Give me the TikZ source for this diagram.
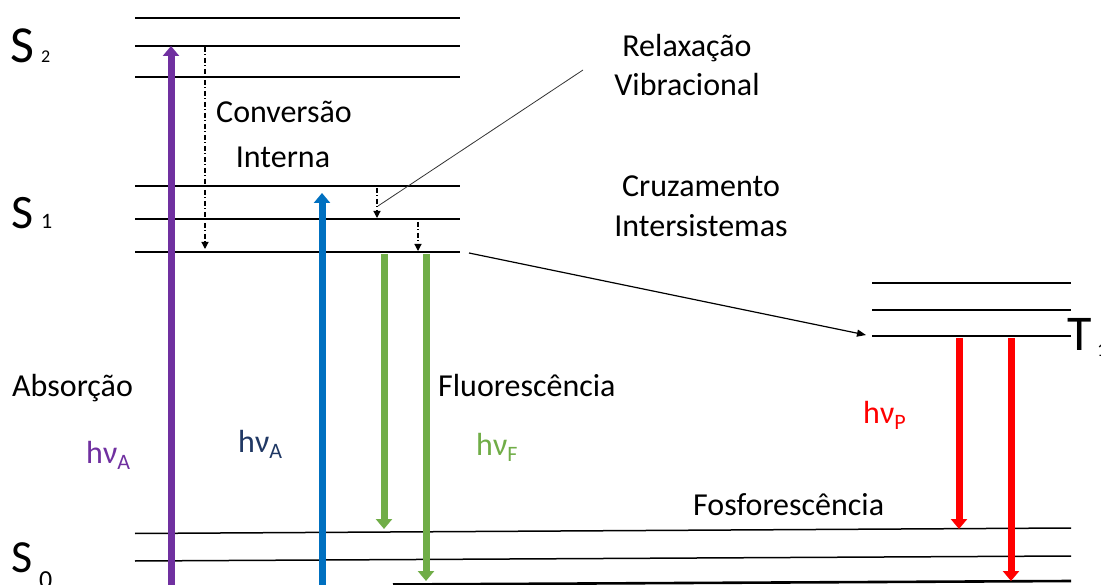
\documentclass[tikz,border=0pt]{standalone}
\usepackage{fontspec}
\setmainfont{Carlito}
\usetikzlibrary{arrows.meta}
\definecolor{cpurple}{HTML}{7030A0}
\definecolor{cblue}{HTML}{0070C0}
\definecolor{cgreen}{HTML}{70AD47}
\definecolor{cred}{HTML}{FF0000}
\definecolor{cnavy}{HTML}{203864}
\newcommand\lblfont{\fontsize{32}{38}\selectfont}
\newcommand\hnu[1]{hν\raisebox{-0.2em}{\fontsize{22}{22}\selectfont #1}}
\tikzset{
  lvl/.style={line width=1.5pt, line cap=butt},
  lvlthick/.style={line width=2.6pt},
  txt/.style={inner sep=0pt, font=\lblfont},
  photon/.style={line width=7pt, -{Triangle[width=16pt,length=10pt]}},
  relax/.style={line width=1.2pt, dash pattern=on 5pt off 2.5pt on 1pt off 2.5pt, -{Triangle[width=7pt,length=7pt]}},
}
\begin{document}
\begin{tikzpicture}[x=1pt,y=-1pt]
\useasboundingbox (0,0) rectangle (1101,585);
% S2 levels
\draw[lvl] (135,18) -- (460,18);
\draw[lvl] (135,46) -- (460,46);
\draw[lvlthick] (135,77) -- (460,77);
% S1 levels
\draw[lvl] (135,186) -- (460,186);
\draw[lvl] (135,219) -- (460,219);
\draw[lvlthick] (135,252) -- (460,252);
% T1 levels
\draw[lvl] (872,283) -- (1071,283);
\draw[lvl] (872,310) -- (1071,310);
\draw[lvlthick] (872,336) -- (1071,336);
% S0 levels (slightly slanted)
\draw[lvl] (135,533.5) -- (1071,528);
\draw[lvl] (135,561) -- (1071,556);
\draw[lvlthick] (393,584.5) -- (1071,581);

% state labels
\node[inner sep=0pt, anchor=base west, font=\fontsize{52}{52}\selectfont] (s2) at (10,63) {S};
\node[inner sep=0pt, anchor=base west, font=\fontsize{18}{18}\selectfont] (s2i) at (41,63) {2};
\node[inner sep=0pt, anchor=base west, font=\fontsize{48}{48}\selectfont] (s1) at (11,229) {S};
\node[inner sep=0pt, anchor=base west, font=\fontsize{22}{22}\selectfont] (s1i) at (41,229) {1};
\node[inner sep=0pt, anchor=base west, font=\fontsize{46}{46}\selectfont] (s0) at (11,572) {S};
\node[inner sep=0pt, anchor=base west, font=\fontsize{26}{26}\selectfont] (s0i) at (39,588) {0};
\node[inner sep=0pt, anchor=base west, font=\fontsize{50}{50}\selectfont] (t1) at (1067,351) {T};
\node[inner sep=0pt, anchor=base west, font=\fontsize{20}{20}\selectfont] (t1i) at (1097,357) {1};

% coordinates for connectors
\coordinate (pA0) at (171,592);
\coordinate (pA1) at (171,46);
\coordinate (bA0) at (322,592);
\coordinate (bA1) at (322,193);
\coordinate (gF0) at (384,254);
\coordinate (gF1) at (384,529);
\coordinate (gG0) at (426,254);
\coordinate (gG1) at (426,581);
\coordinate (rP0) at (959,338);
\coordinate (rP1) at (959,529);
\coordinate (rQ0) at (1011,338);
\coordinate (rQ1) at (1011,581);
\coordinate (ic0) at (205,47);
\coordinate (ic1) at (205,249);
\coordinate (vr0) at (377,188);
\coordinate (vr1) at (377,218);
\coordinate (vs0) at (418,222);
\coordinate (vs1) at (418,251);
\coordinate (isc0) at (469,253);
\coordinate (isc1) at (866,335);
\coordinate (rl0) at (378,206);
\coordinate (rl1) at (583,70);

% radiative transitions
\draw[photon, cpurple] (pA0) -- (pA1);
\draw[photon, cblue] (bA0) -- (bA1);
\draw[photon, cgreen] (gF0) -- (gF1);
\draw[photon, cgreen] (gG0) -- (gG1);
\draw[photon, cred] (rP0) -- (rP1);
\draw[photon, cred] (rQ0) -- (rQ1);

% non-radiative
\draw[relax] (ic0) -- (ic1);
\draw[relax] (vr0) -- (vr1);
\draw[relax] (vs0) -- (vs1);
\draw[line width=1.2pt, -{Triangle[width=7pt,length=9pt]}] (isc0) -- (isc1);
\draw[line width=0.8pt, black!80] (rl0) -- (rl1);

% text labels
\node[txt, anchor=base] (conv) at (284,123) {Conversão};
\node[txt, anchor=base] (intr) at (283,168) {Interna};
\node[txt, anchor=base] (relx) at (687,57) {Relaxação};
\node[txt, anchor=base] (vibr) at (687,96) {Vibracional};
\node[txt, anchor=base] (cruz) at (701,197) {Cruzamento};
\node[txt, anchor=base] (inte) at (701,237) {Intersistemas};
\node[txt, anchor=base west] (abs) at (12,397) {Absorção};
\node[txt, anchor=base west] (flu) at (438,397) {Fluorescência};
\node[txt, anchor=base west] (fos) at (693,515) {Fosforescência};
\node[txt, anchor=base west, text=cpurple] (hA1) at (86,463) {\hnu{A}};
\node[txt, anchor=base west, text=cnavy] (hA2) at (238,452) {\hnu{A}};
\node[txt, anchor=base west, text=cgreen] (hF) at (476,455) {\hnu{F}};
\node[txt, anchor=base west, text=cred] (hP) at (863,423) {\hnu{P}};
\end{tikzpicture}
\end{document}
